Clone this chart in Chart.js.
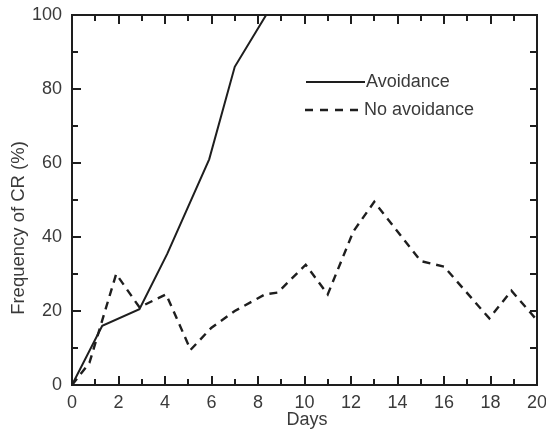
<!DOCTYPE html>
<html>
<head>
<meta charset="utf-8">
<script src="https://cdn.jsdelivr.net/npm/chart.js@4/dist/chart.umd.min.js"></script>
<style>
  html, body { margin: 0; padding: 0; background: #fff; }
  #wrap { width: 546px; height: 430px; }
</style>
</head>
<body>
<div id="wrap"><canvas id="grafico"></canvas></div>
<script>
// dias y frecuencia de respuestas condicionadas (%)
const avoidDays = [0, 1.3, 2.9, 4.1, 5.9, 7.0, 8.35];
const avoidFreq = [0, 16, 20.5, 35.5, 61, 86, 100];

const noAvoidDays = [0, 0.75, 1.9, 2.9, 4.05, 5.1, 6, 7, 8.3, 8.85, 10.05, 11, 12.1, 13, 15, 16, 17.95, 18.9, 20];
const noAvoidFreq = [0, 6, 30, 21, 24.5, 9.5, 15.5, 20, 24.5, 25, 32.5, 24.5, 41.5, 49.5, 33.5, 32, 18, 25.5, 17.5];

const seriesNames = ['Avoidance', 'No avoidance'];
const xTicks = [0, 2, 4, 6, 8, 10, 12, 14, 16, 18, 20];
const yTicks = [0, 20, 40, 60, 80, 100];

const ink = '#1e1e1e';
const textColor = '#3a3a3a';
const fuente = 'Liberation Sans, Arial, sans-serif';

function puntos(xs, ys) {
    return xs.map((x, i) => ({ x: x, y: ys[i] }));
}

// sin márgenes extra por las etiquetas de los extremos
function sinRelleno(s) {
    s.paddingLeft = 0;
    s.paddingRight = 0;
    s.paddingTop = 0;
    s.paddingBottom = 0;
}

// marco, marcas hacia dentro, leyenda y títulos de ejes
const marcoPlugin = {
    id: 'marco',
    afterDraw(chart) {
        const ctx = chart.ctx;
        const a = chart.chartArea;
        const xs = chart.scales.x;
        const ys = chart.scales.y;
        ctx.save();
        ctx.strokeStyle = ink;
        ctx.lineWidth = 2;
        ctx.strokeRect(a.left, a.top, a.right - a.left, a.bottom - a.top);

        ctx.beginPath();
        for (let d = 0; d <= 20; d++) {
            const px = Math.round(xs.getPixelForValue(d));
            const len = d % 2 === 0 ? 9 : 6;
            ctx.moveTo(px, a.bottom);
            ctx.lineTo(px, a.bottom - len);
            ctx.moveTo(px, a.top);
            ctx.lineTo(px, a.top + len);
        }
        for (let v = 10; v < 100; v += 10) {
            const py = Math.round(ys.getPixelForValue(v));
            const len = v % 20 === 0 ? 9 : 6;
            ctx.moveTo(a.left, py);
            ctx.lineTo(a.left + len, py);
            ctx.moveTo(a.right, py);
            ctx.lineTo(a.right - 7, py);
        }
        ctx.stroke();

        // leyenda
        ctx.lineWidth = 2;
        ctx.beginPath();
        ctx.moveTo(306, 82);
        ctx.lineTo(365, 82);
        ctx.stroke();
        ctx.lineWidth = 2.4;
        ctx.setLineDash([8, 7]);
        ctx.beginPath();
        ctx.moveTo(305, 110);
        ctx.lineTo(363, 110);
        ctx.stroke();
        ctx.setLineDash([]);

        ctx.fillStyle = textColor;
        ctx.font = '18px ' + fuente;
        ctx.textAlign = 'left';
        ctx.textBaseline = 'middle';
        ctx.fillText(seriesNames[0], 366, 82);
        ctx.fillText(seriesNames[1], 364, 110);

        // títulos
        ctx.textAlign = 'center';
        ctx.fillText('Days', 307, 420);
        ctx.font = '18.5px ' + fuente;
        ctx.translate(19, 228);
        ctx.rotate(-Math.PI / 2);
        ctx.fillText('Frequency of CR (%)', 0, 0);
        ctx.restore();
    }
};

new Chart(document.getElementById('grafico').getContext('2d'), {
    type: 'line',
    data: {
        datasets: [
            {
                label: seriesNames[0],
                data: puntos(avoidDays, avoidFreq),
                borderColor: ink,
                borderWidth: 2,
                pointRadius: 0,
                tension: 0,
                fill: false
            },
            {
                label: seriesNames[1],
                data: puntos(noAvoidDays, noAvoidFreq),
                borderColor: ink,
                borderWidth: 2.4,
                borderDash: [8, 6],
                pointRadius: 0,
                tension: 0,
                fill: false
            }
        ]
    },
    options: {
        responsive: true,
        maintainAspectRatio: false,
        animation: false,
        devicePixelRatio: 1,
        layout: { padding: { top: 15, right: 9, left: 0, bottom: 0 } },
        plugins: {
            legend: { display: false },
            tooltip: { enabled: false }
        },
        scales: {
            x: {
                type: 'linear',
                min: 0,
                max: 20,
                afterFit: s => { s.height = 45; sinRelleno(s); },
                afterBuildTicks: s => { s.ticks = xTicks.map(v => ({ value: v })); },
                grid: { display: false, drawTicks: false },
                border: { display: false },
                ticks: {
                    color: textColor,
                    font: { size: 18, family: fuente },
                    padding: 7,
                    maxRotation: 0,
                    autoSkip: false
                }
            },
            y: {
                min: 0,
                max: 100,
                afterFit: s => { s.width = 72; sinRelleno(s); },
                afterBuildTicks: s => { s.ticks = yTicks.map(v => ({ value: v })); },
                grid: { display: false, drawTicks: false },
                border: { display: false },
                ticks: {
                    color: textColor,
                    font: { size: 18, family: fuente },
                    padding: 10
                }
            }
        }
    },
    plugins: [marcoPlugin]
});
</script>
</body>
</html>
